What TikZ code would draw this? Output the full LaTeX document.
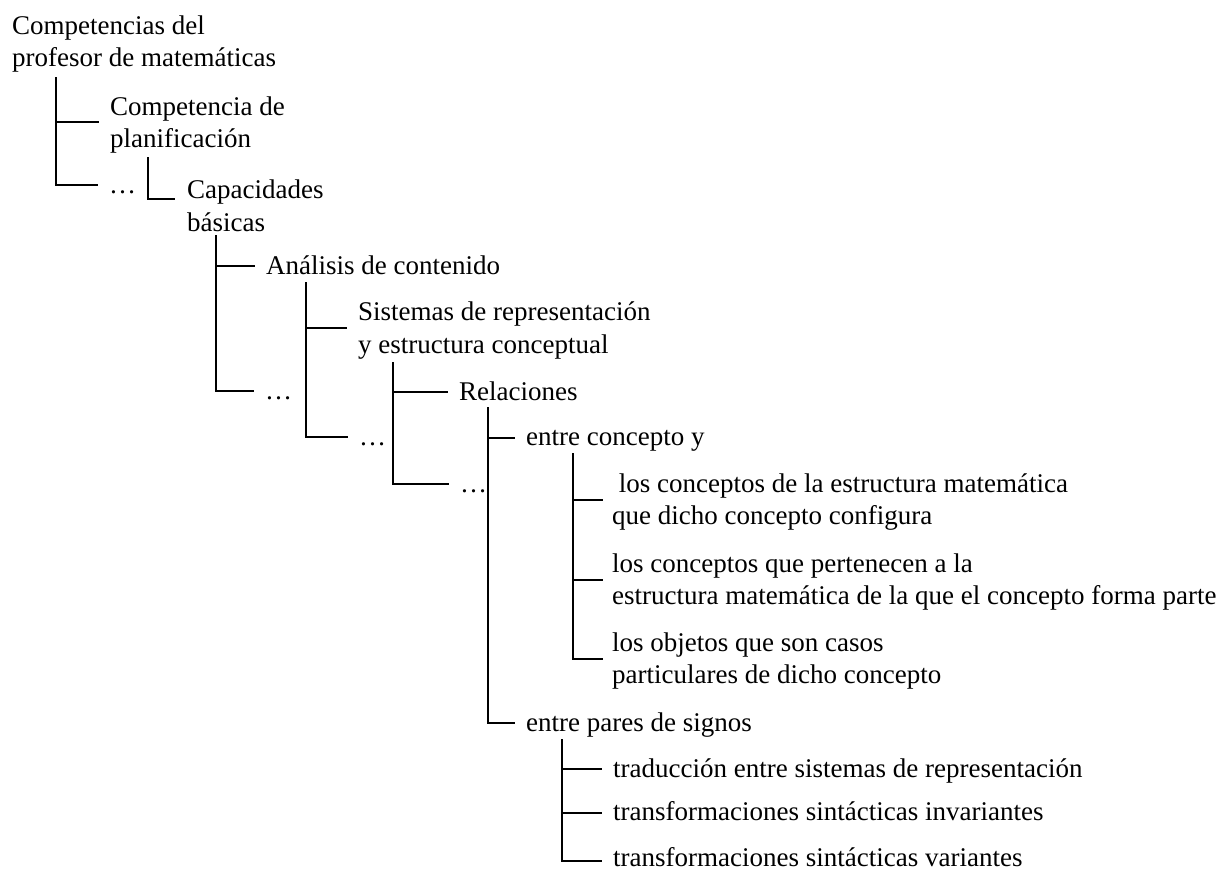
\documentclass[tikz,border=0pt]{standalone}
\usepackage{fontspec}
\setmainfont{Liberation Serif}
% two stacked lines, aligned on the baseline of the first one
\newcommand\twolines[2]{\begin{tabular}[t]{@{}l@{}}#1\\#2\end{tabular}}
\begin{document}
\begin{tikzpicture}[x=1pt,y=-1pt,
  every node/.style={inner sep=0pt, anchor=base west,
    font=\fontsize{27}{32.5}\selectfont},
  tree/.style={line width=2pt, line join=miter, line cap=butt},
  % branch end points: beside a one-line label or a two-line label
  one/.style={xshift=-11pt, yshift=8pt},
  two/.style={xshift=-11pt, yshift=-7pt},
]
\useasboundingbox (0,0) rectangle (1228,871);

% labels
\node (root) at (12,34)  {\twolines{Competencias del}{profesor de matemáticas}};
\node (plan) at (110,115) {\twolines{Competencia de}{planificación}};
\node (d1)   at (109,193) {…};
\node (cap)  at (187,198.5) {\twolines{Capacidades}{básicas}};
\node (ana)  at (266,274) {Análisis de contenido};
\node (d2)   at (265,399) {…};
\node (sis)  at (358,320.5) {\twolines{Sistemas de representación}{y estructura conceptual}};
\node (d3)   at (359,445) {…};
\node (rel)  at (459,400) {Relaciones};
\node (d4)   at (460,492) {…};
\node (ecy)  at (526,445.5) {entre concepto y};
\node (c1)   at (612,492) {\twolines{\ los conceptos de la estructura matemática}{que dicho concepto configura}};
\node (c2)   at (612,572) {\twolines{los conceptos que pertenecen a la}{estructura matemática de la que el concepto forma parte}};
\node (c3)   at (612,651) {\twolines{los objetos que son casos}{particulares de dicho concepto}};
\node (eps)  at (526,731) {entre pares de signos};
\node (t1)   at (613,777) {traducción entre sistemas de representación};
\node (t2)   at (613,820.5) {transformaciones sintácticas invariantes};
\node (t3)   at (613,866) {transformaciones sintácticas variantes};

% tops of the vertical tree lines
\coordinate (v1) at (56,77);
\coordinate (v2) at (148,157);
\coordinate (v3) at (216,235);
\coordinate (v4) at (305.5,282);
\coordinate (v5) at (393,362);
\coordinate (v6) at (488,407);
\coordinate (v7) at (573,453);
\coordinate (v8) at (562,739);

% tree lines
\draw[tree] (v1) |- ([two]plan.base west);
\draw[tree] (v1) |- ([one]d1.base west);
\draw[tree] (v2) |- ([xshift=-12pt,yshift=-0.5pt]cap.base west);
\draw[tree] (v3) |- ([one]ana.base west);
\draw[tree] (v3) |- ([one]d2.base west);
\draw[tree] (v4) |- ([two]sis.base west);
\draw[tree] (v4) |- ([one]d3.base west);
\draw[tree] (v5) |- ([one]rel.base west);
\draw[tree] (v5) |- ([one]d4.base west);
\draw[tree] (v6) |- ([one]ecy.base west);
\draw[tree] (v6) |- ([one]eps.base west);
\draw[tree] (v7) |- ([xshift=-9pt,yshift=-8pt]c1.base west);
\draw[tree] (v7) |- ([xshift=-9pt,yshift=-8pt]c2.base west);
\draw[tree] (v7) |- ([xshift=-9pt,yshift=-8pt]c3.base west);
\draw[tree] (v8) |- ([one]t1.base west);
\draw[tree] (v8) |- ([one]t2.base west);
\draw[tree] (v8) |- ([xshift=-11pt,yshift=5pt]t3.base west);
\end{tikzpicture}
\end{document}
